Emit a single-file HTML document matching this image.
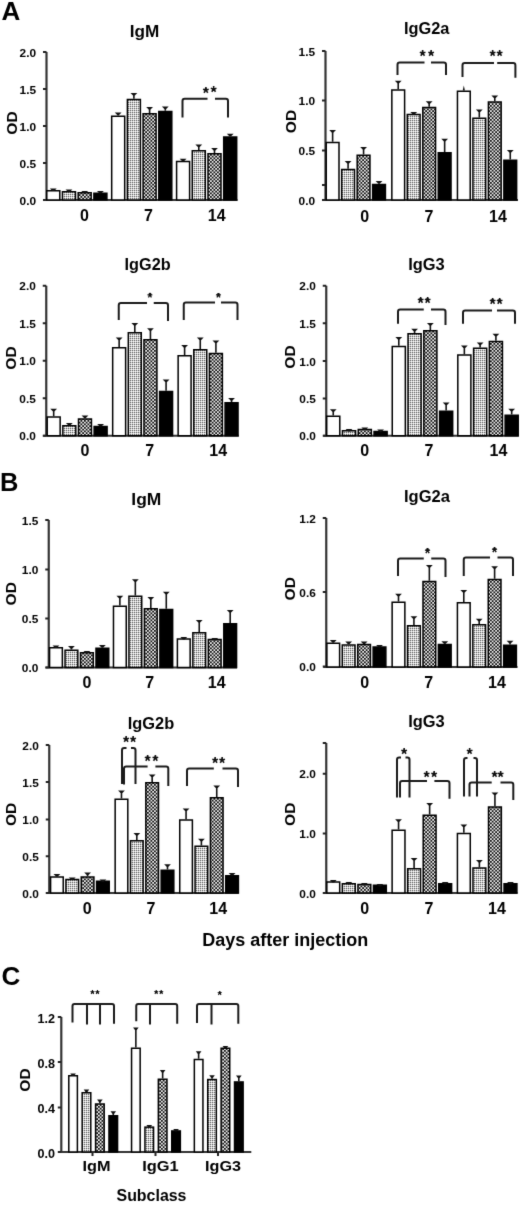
<!DOCTYPE html>
<html><head><meta charset="utf-8"><title>Figure</title>
<style>
html,body{margin:0;padding:0;background:#fff;}
body{width:520px;height:1206px;overflow:hidden;}
svg{display:block;font-family:"Liberation Sans", sans-serif;}
.ax{stroke:#333;stroke-width:2.2;fill:none;}
.tk{stroke:#222;stroke-width:2;}
.bar{stroke:#000;stroke-width:1.5;}
.eb{stroke:#111;stroke-width:1.6;}
.cap{fill:#111;}
.st{fill:#111;}
.br{stroke:#1a1a1a;stroke-width:2;fill:none;}
text{fill:#000;}
</style></head><body>
<svg width="520" height="1206" viewBox="0 0 520 1206">
<defs>
<pattern id="fine" patternUnits="userSpaceOnUse" width="2" height="2">
<rect width="2" height="2" fill="#fff"/><rect width="1" height="1" fill="#666"/><rect x="1" width="1" height="1" fill="#d2d2d2"/><rect y="1" width="1" height="1" fill="#d2d2d2"/>
</pattern>
<pattern id="cross" patternUnits="userSpaceOnUse" width="3.5" height="3.5">
<rect width="3.5" height="3.5" fill="#f0f0f0"/><rect width="1.75" height="1.75" fill="#111"/><rect x="1.75" y="1.75" width="1.75" height="1.75" fill="#111"/>
</pattern>
<filter id="soft" x="0" y="0" width="520" height="1206" filterUnits="userSpaceOnUse" color-interpolation-filters="sRGB"><feConvolveMatrix order="3" kernelMatrix="1 8 1 8 64 8 1 8 1" divisor="100" edgeMode="duplicate"/></filter>
</defs>
<g filter="url(#soft)">
<rect width="520" height="1206" fill="#fff"/>
<line x1="46.5" y1="52" x2="46.5" y2="200" class="ax"/>
<line x1="43.5" y1="200" x2="237.5" y2="200" class="ax"/>
<line x1="43.0" y1="52" x2="46.5" y2="52" class="tk"/>
<text x="36.10" y="56.70" font-size="10" font-weight="bold" text-anchor="end" textLength="16.5" lengthAdjust="spacingAndGlyphs">2.0</text>
<line x1="43.0" y1="89" x2="46.5" y2="89" class="tk"/>
<text x="36.10" y="93.70" font-size="10" font-weight="bold" text-anchor="end" textLength="16.5" lengthAdjust="spacingAndGlyphs">1.5</text>
<line x1="43.0" y1="126" x2="46.5" y2="126" class="tk"/>
<text x="36.10" y="130.70" font-size="10" font-weight="bold" text-anchor="end" textLength="16.5" lengthAdjust="spacingAndGlyphs">1.0</text>
<line x1="43.0" y1="163" x2="46.5" y2="163" class="tk"/>
<text x="36.10" y="167.70" font-size="10" font-weight="bold" text-anchor="end" textLength="16.5" lengthAdjust="spacingAndGlyphs">0.5</text>
<line x1="43.0" y1="200" x2="46.5" y2="200" class="tk"/>
<text x="36.10" y="204.70" font-size="10" font-weight="bold" text-anchor="end" textLength="16.5" lengthAdjust="spacingAndGlyphs">0.0</text>
<rect x="46.78" y="190.75" width="13.00" height="9.25" fill="#fff" class="bar"/>
<line x1="53.28" y1="190" x2="53.28" y2="189.5" class="eb"/>
<path d="M49.88 188.50h6.80l-2.50 2.6h-1.8z" class="cap"/>
<rect x="62.48" y="191.75" width="13.00" height="8.25" fill="url(#fine)" class="bar"/>
<line x1="68.98" y1="191" x2="68.98" y2="190.5" class="eb"/>
<path d="M65.58 189.50h6.80l-2.50 2.6h-1.8z" class="cap"/>
<rect x="78.18" y="192.75" width="13.00" height="7.25" fill="url(#cross)" class="bar"/>
<line x1="84.69" y1="192" x2="84.69" y2="192" class="eb"/>
<path d="M81.29 191.00h6.80l-2.50 2.6h-1.8z" class="cap"/>
<rect x="93.89" y="193.25" width="13.00" height="6.75" fill="#000" class="bar"/>
<line x1="100.39" y1="192.5" x2="100.39" y2="192" class="eb"/>
<path d="M96.99 191.00h6.80l-2.50 2.6h-1.8z" class="cap"/>
<rect x="111.68" y="116.25" width="13.00" height="83.75" fill="#fff" class="bar"/>
<line x1="118.18" y1="115.5" x2="118.18" y2="113.5" class="eb"/>
<path d="M114.78 112.50h6.80l-2.50 2.6h-1.8z" class="cap"/>
<rect x="127.39" y="99.50" width="13.00" height="100.50" fill="url(#fine)" class="bar"/>
<line x1="133.89" y1="98.75" x2="133.89" y2="94" class="eb"/>
<path d="M130.49 93.00h6.80l-2.50 2.6h-1.8z" class="cap"/>
<rect x="143.09" y="113.75" width="13.00" height="86.25" fill="url(#cross)" class="bar"/>
<line x1="149.59" y1="113" x2="149.59" y2="108" class="eb"/>
<path d="M146.19 107.00h6.80l-2.50 2.6h-1.8z" class="cap"/>
<rect x="158.79" y="111.50" width="13.00" height="88.50" fill="#000" class="bar"/>
<line x1="165.30" y1="110.75" x2="165.30" y2="107.5" class="eb"/>
<path d="M161.90 106.50h6.80l-2.50 2.6h-1.8z" class="cap"/>
<rect x="176.59" y="161.50" width="13.00" height="38.50" fill="#fff" class="bar"/>
<line x1="183.09" y1="160.75" x2="183.09" y2="159.75" class="eb"/>
<path d="M179.69 158.75h6.80l-2.50 2.6h-1.8z" class="cap"/>
<rect x="192.29" y="150.75" width="13.00" height="49.25" fill="url(#fine)" class="bar"/>
<line x1="198.79" y1="150" x2="198.79" y2="145.5" class="eb"/>
<path d="M195.39 144.50h6.80l-2.50 2.6h-1.8z" class="cap"/>
<rect x="208.00" y="153.75" width="13.00" height="46.25" fill="url(#cross)" class="bar"/>
<line x1="214.50" y1="153" x2="214.50" y2="149" class="eb"/>
<path d="M211.10 148.00h6.80l-2.50 2.6h-1.8z" class="cap"/>
<rect x="223.70" y="137.00" width="13.00" height="63.00" fill="#000" class="bar"/>
<line x1="230.20" y1="136.25" x2="230.20" y2="134.75" class="eb"/>
<path d="M226.80 133.75h6.80l-2.50 2.6h-1.8z" class="cap"/>
<path d="M182.5 117.5V100.95Q182.5 98.75 184.7 98.75H207.5 M215 98.75H225.8Q228 98.75 228 100.95V117.5" class="br"/>
<text x="205.80" y="98.70" font-size="16.0" font-weight="bold" text-anchor="middle" class="st">*</text>
<circle cx="205.80" cy="89.70" r="1.67" class="st"/>
<text x="213.70" y="98.40" font-size="16.0" font-weight="bold" text-anchor="middle" class="st">*</text>
<circle cx="213.70" cy="89.40" r="1.67" class="st"/>
<text x="84.40" y="220.90" font-size="16" font-weight="bold" text-anchor="middle">0</text>
<text x="148.40" y="220.90" font-size="16" font-weight="bold" text-anchor="middle">7</text>
<text x="216.70" y="220.90" font-size="16" font-weight="bold" text-anchor="middle">14</text>
<text x="144.50" y="37.00" font-size="16" font-weight="bold" text-anchor="middle" textLength="29.5" lengthAdjust="spacingAndGlyphs">IgM</text>
<text x="16.70" y="123.00" font-size="15.5" font-weight="bold" text-anchor="middle" transform="rotate(-90 16.7 123)">OD</text>
<line x1="325.5" y1="51" x2="325.5" y2="200" class="ax"/>
<line x1="322.5" y1="200" x2="518" y2="200" class="ax"/>
<line x1="322.0" y1="51" x2="325.5" y2="51" class="tk"/>
<text x="315.10" y="55.70" font-size="10" font-weight="bold" text-anchor="end" textLength="16.5" lengthAdjust="spacingAndGlyphs">1.5</text>
<line x1="322.0" y1="100.5" x2="325.5" y2="100.5" class="tk"/>
<text x="315.10" y="105.20" font-size="10" font-weight="bold" text-anchor="end" textLength="16.5" lengthAdjust="spacingAndGlyphs">1.0</text>
<line x1="322.0" y1="150.5" x2="325.5" y2="150.5" class="tk"/>
<text x="315.10" y="155.20" font-size="10" font-weight="bold" text-anchor="end" textLength="16.5" lengthAdjust="spacingAndGlyphs">0.5</text>
<line x1="322.0" y1="185" x2="325.5" y2="185" class="tk"/>
<line x1="322.0" y1="200" x2="325.5" y2="200" class="tk"/>
<text x="315.10" y="204.70" font-size="10" font-weight="bold" text-anchor="end" textLength="16.5" lengthAdjust="spacingAndGlyphs">0.0</text>
<rect x="326.23" y="142.50" width="12.77" height="57.50" fill="#fff" class="bar"/>
<line x1="332.62" y1="141.75" x2="332.62" y2="131" class="eb"/>
<path d="M329.22 130.00h6.80l-2.50 2.6h-1.8z" class="cap"/>
<rect x="341.70" y="169.50" width="12.77" height="30.50" fill="url(#fine)" class="bar"/>
<line x1="348.09" y1="168.75" x2="348.09" y2="162" class="eb"/>
<path d="M344.69 161.00h6.80l-2.50 2.6h-1.8z" class="cap"/>
<rect x="357.18" y="155.25" width="12.77" height="44.75" fill="url(#cross)" class="bar"/>
<line x1="363.57" y1="154.5" x2="363.57" y2="148" class="eb"/>
<path d="M360.17 147.00h6.80l-2.50 2.6h-1.8z" class="cap"/>
<rect x="372.65" y="184.50" width="12.77" height="15.50" fill="#000" class="bar"/>
<line x1="379.04" y1="183.75" x2="379.04" y2="182" class="eb"/>
<path d="M375.64 181.00h6.80l-2.50 2.6h-1.8z" class="cap"/>
<rect x="391.84" y="90.00" width="12.77" height="110.00" fill="#fff" class="bar"/>
<line x1="398.22" y1="89.25" x2="398.22" y2="81.75" class="eb"/>
<path d="M394.82 80.75h6.80l-2.50 2.6h-1.8z" class="cap"/>
<rect x="407.31" y="114.50" width="12.77" height="85.50" fill="url(#fine)" class="bar"/>
<line x1="413.70" y1="113.75" x2="413.70" y2="113" class="eb"/>
<path d="M410.30 112.00h6.80l-2.50 2.6h-1.8z" class="cap"/>
<rect x="422.79" y="107.50" width="12.77" height="92.50" fill="url(#cross)" class="bar"/>
<line x1="429.17" y1="106.75" x2="429.17" y2="102.25" class="eb"/>
<path d="M425.77 101.25h6.80l-2.50 2.6h-1.8z" class="cap"/>
<rect x="438.26" y="152.75" width="12.77" height="47.25" fill="#000" class="bar"/>
<line x1="444.65" y1="152" x2="444.65" y2="139.75" class="eb"/>
<path d="M441.25 138.75h6.80l-2.50 2.6h-1.8z" class="cap"/>
<rect x="457.45" y="91.25" width="12.77" height="108.75" fill="#fff" class="bar"/>
<path d="M462.73 90.5L463.83 85.5L464.93 90.5z" class="cap"/>
<rect x="472.92" y="118.25" width="12.77" height="81.75" fill="url(#fine)" class="bar"/>
<line x1="479.31" y1="117.5" x2="479.31" y2="110.5" class="eb"/>
<path d="M475.91 109.50h6.80l-2.50 2.6h-1.8z" class="cap"/>
<rect x="488.40" y="102.00" width="12.77" height="98.00" fill="url(#cross)" class="bar"/>
<line x1="494.78" y1="101.25" x2="494.78" y2="96.5" class="eb"/>
<path d="M491.38 95.50h6.80l-2.50 2.6h-1.8z" class="cap"/>
<rect x="503.87" y="160.25" width="12.77" height="39.75" fill="#000" class="bar"/>
<line x1="510.26" y1="159.5" x2="510.26" y2="151" class="eb"/>
<path d="M506.86 150.00h6.80l-2.50 2.6h-1.8z" class="cap"/>
<path d="M397.5 75V64.7Q397.5 62.5 399.7 62.5H424.5 M431 62.5H443.8Q446 62.5 446 64.7V75" class="br"/>
<path d="M462.5 77V65.2Q462.5 63 464.7 63H494 M497.2 63H513.1999999999999Q515.4 63 515.4 65.2V77.7" class="br"/>
<text x="422.50" y="62.00" font-size="16.0" font-weight="bold" text-anchor="middle" class="st">*</text>
<circle cx="422.50" cy="53.00" r="1.67" class="st"/>
<text x="431.00" y="62.00" font-size="16.0" font-weight="bold" text-anchor="middle" class="st">*</text>
<circle cx="431.00" cy="53.00" r="1.67" class="st"/>
<text x="492.70" y="62.00" font-size="16.0" font-weight="bold" text-anchor="middle" class="st">*</text>
<circle cx="492.70" cy="53.00" r="1.67" class="st"/>
<text x="499.60" y="62.00" font-size="16.0" font-weight="bold" text-anchor="middle" class="st">*</text>
<circle cx="499.60" cy="53.00" r="1.67" class="st"/>
<text x="364.80" y="221.80" font-size="16" font-weight="bold" text-anchor="middle">0</text>
<text x="429.00" y="221.80" font-size="16" font-weight="bold" text-anchor="middle">7</text>
<text x="497.90" y="221.80" font-size="16" font-weight="bold" text-anchor="middle">14</text>
<text x="426.70" y="34.40" font-size="16" font-weight="bold" text-anchor="middle" textLength="45.5" lengthAdjust="spacingAndGlyphs">IgG2a</text>
<text x="295.60" y="121.50" font-size="15.5" font-weight="bold" text-anchor="middle" transform="rotate(-90 295.6 121.5)">OD</text>
<line x1="46.25" y1="285.75" x2="46.25" y2="435.75" class="ax"/>
<line x1="43.25" y1="435.75" x2="238.75" y2="435.75" class="ax"/>
<line x1="42.75" y1="285.75" x2="46.25" y2="285.75" class="tk"/>
<text x="35.85" y="290.45" font-size="10" font-weight="bold" text-anchor="end" textLength="16.5" lengthAdjust="spacingAndGlyphs">2.0</text>
<line x1="42.75" y1="323.25" x2="46.25" y2="323.25" class="tk"/>
<text x="35.85" y="327.95" font-size="10" font-weight="bold" text-anchor="end" textLength="16.5" lengthAdjust="spacingAndGlyphs">1.5</text>
<line x1="42.75" y1="360.75" x2="46.25" y2="360.75" class="tk"/>
<text x="35.85" y="365.45" font-size="10" font-weight="bold" text-anchor="end" textLength="16.5" lengthAdjust="spacingAndGlyphs">1.0</text>
<line x1="42.75" y1="398.25" x2="46.25" y2="398.25" class="tk"/>
<text x="35.85" y="402.95" font-size="10" font-weight="bold" text-anchor="end" textLength="16.5" lengthAdjust="spacingAndGlyphs">0.5</text>
<line x1="42.75" y1="435.75" x2="46.25" y2="435.75" class="tk"/>
<text x="35.85" y="440.45" font-size="10" font-weight="bold" text-anchor="end" textLength="16.5" lengthAdjust="spacingAndGlyphs">0.0</text>
<rect x="47.20" y="417.00" width="12.95" height="18.75" fill="#fff" class="bar"/>
<line x1="53.68" y1="416.25" x2="53.68" y2="409.75" class="eb"/>
<path d="M50.28 408.75h6.80l-2.50 2.6h-1.8z" class="cap"/>
<rect x="62.85" y="425.75" width="12.95" height="10.00" fill="url(#fine)" class="bar"/>
<line x1="69.32" y1="425" x2="69.32" y2="424" class="eb"/>
<path d="M65.92 423.00h6.80l-2.50 2.6h-1.8z" class="cap"/>
<rect x="78.50" y="419.00" width="12.95" height="16.75" fill="url(#cross)" class="bar"/>
<line x1="84.97" y1="418.25" x2="84.97" y2="416.5" class="eb"/>
<path d="M81.57 415.50h6.80l-2.50 2.6h-1.8z" class="cap"/>
<rect x="94.14" y="426.50" width="12.95" height="9.25" fill="#000" class="bar"/>
<line x1="100.61" y1="425.75" x2="100.61" y2="425" class="eb"/>
<path d="M97.21 424.00h6.80l-2.50 2.6h-1.8z" class="cap"/>
<rect x="112.67" y="347.75" width="12.95" height="88.00" fill="#fff" class="bar"/>
<line x1="119.15" y1="347" x2="119.15" y2="338.5" class="eb"/>
<path d="M115.75 337.50h6.80l-2.50 2.6h-1.8z" class="cap"/>
<rect x="128.32" y="332.75" width="12.95" height="103.00" fill="url(#fine)" class="bar"/>
<line x1="134.79" y1="332" x2="134.79" y2="324" class="eb"/>
<path d="M131.39 323.00h6.80l-2.50 2.6h-1.8z" class="cap"/>
<rect x="143.96" y="339.75" width="12.95" height="96.00" fill="url(#cross)" class="bar"/>
<line x1="150.44" y1="339" x2="150.44" y2="329.25" class="eb"/>
<path d="M147.04 328.25h6.80l-2.50 2.6h-1.8z" class="cap"/>
<rect x="159.61" y="391.50" width="12.95" height="44.25" fill="#000" class="bar"/>
<line x1="166.08" y1="390.75" x2="166.08" y2="380.5" class="eb"/>
<path d="M162.68 379.50h6.80l-2.50 2.6h-1.8z" class="cap"/>
<rect x="178.14" y="355.75" width="12.95" height="80.00" fill="#fff" class="bar"/>
<line x1="184.61" y1="355" x2="184.61" y2="346" class="eb"/>
<path d="M181.21 345.00h6.80l-2.50 2.6h-1.8z" class="cap"/>
<rect x="193.79" y="349.75" width="12.95" height="86.00" fill="url(#fine)" class="bar"/>
<line x1="200.26" y1="349" x2="200.26" y2="338.5" class="eb"/>
<path d="M196.86 337.50h6.80l-2.50 2.6h-1.8z" class="cap"/>
<rect x="209.43" y="353.50" width="12.95" height="82.25" fill="url(#cross)" class="bar"/>
<line x1="215.91" y1="352.75" x2="215.91" y2="341.5" class="eb"/>
<path d="M212.51 340.50h6.80l-2.50 2.6h-1.8z" class="cap"/>
<rect x="225.08" y="402.75" width="12.95" height="33.00" fill="#000" class="bar"/>
<line x1="231.55" y1="402" x2="231.55" y2="399" class="eb"/>
<path d="M228.15 398.00h6.80l-2.50 2.6h-1.8z" class="cap"/>
<path d="M118.75 320V305.2Q118.75 303 120.95 303H147 M153.75 303H165.8Q168 303 168 305.2V321" class="br"/>
<path d="M183.75 320V304.7Q183.75 302.5 185.95 302.5H215 M221 302.5H235.3Q237.5 302.5 237.5 304.7V320" class="br"/>
<text x="150.00" y="301.97" font-size="13.6" font-weight="bold" text-anchor="middle" class="st">*</text>
<circle cx="150.00" cy="294.30" r="1.43" class="st"/>
<text x="218.50" y="302.17" font-size="13.6" font-weight="bold" text-anchor="middle" class="st">*</text>
<circle cx="218.50" cy="294.50" r="1.43" class="st"/>
<text x="85.00" y="456.00" font-size="16" font-weight="bold" text-anchor="middle">0</text>
<text x="149.80" y="456.00" font-size="16" font-weight="bold" text-anchor="middle">7</text>
<text x="218.20" y="456.00" font-size="16" font-weight="bold" text-anchor="middle">14</text>
<text x="147.60" y="270.40" font-size="16" font-weight="bold" text-anchor="middle" textLength="46" lengthAdjust="spacingAndGlyphs">IgG2b</text>
<text x="15.60" y="358.00" font-size="15.5" font-weight="bold" text-anchor="middle" transform="rotate(-90 15.6 358)">OD</text>
<line x1="326.25" y1="285.75" x2="326.25" y2="435.75" class="ax"/>
<line x1="323.25" y1="435.75" x2="518.75" y2="435.75" class="ax"/>
<line x1="322.75" y1="285.75" x2="326.25" y2="285.75" class="tk"/>
<text x="315.85" y="290.45" font-size="10" font-weight="bold" text-anchor="end" textLength="16.5" lengthAdjust="spacingAndGlyphs">2.0</text>
<line x1="322.75" y1="323.25" x2="326.25" y2="323.25" class="tk"/>
<text x="315.85" y="327.95" font-size="10" font-weight="bold" text-anchor="end" textLength="16.5" lengthAdjust="spacingAndGlyphs">1.5</text>
<line x1="322.75" y1="361" x2="326.25" y2="361" class="tk"/>
<text x="315.85" y="365.70" font-size="10" font-weight="bold" text-anchor="end" textLength="16.5" lengthAdjust="spacingAndGlyphs">1.0</text>
<line x1="322.75" y1="398.5" x2="326.25" y2="398.5" class="tk"/>
<text x="315.85" y="403.20" font-size="10" font-weight="bold" text-anchor="end" textLength="16.5" lengthAdjust="spacingAndGlyphs">0.5</text>
<line x1="322.75" y1="435.75" x2="326.25" y2="435.75" class="tk"/>
<text x="315.85" y="440.45" font-size="10" font-weight="bold" text-anchor="end" textLength="16.5" lengthAdjust="spacingAndGlyphs">0.0</text>
<rect x="326.71" y="416.25" width="13.08" height="19.50" fill="#fff" class="bar"/>
<line x1="333.25" y1="415.5" x2="333.25" y2="410.25" class="eb"/>
<path d="M329.85 409.25h6.80l-2.50 2.6h-1.8z" class="cap"/>
<rect x="342.49" y="430.75" width="13.08" height="5.00" fill="url(#fine)" class="bar"/>
<line x1="349.03" y1="430" x2="349.03" y2="430" class="eb"/>
<path d="M345.63 429.00h6.80l-2.50 2.6h-1.8z" class="cap"/>
<rect x="358.27" y="429.50" width="13.08" height="6.25" fill="url(#cross)" class="bar"/>
<line x1="364.81" y1="428.75" x2="364.81" y2="428.5" class="eb"/>
<path d="M361.41 427.50h6.80l-2.50 2.6h-1.8z" class="cap"/>
<rect x="374.05" y="431.50" width="13.08" height="4.25" fill="#000" class="bar"/>
<line x1="380.59" y1="430.75" x2="380.59" y2="430.5" class="eb"/>
<path d="M377.19 429.50h6.80l-2.50 2.6h-1.8z" class="cap"/>
<rect x="392.26" y="346.50" width="13.08" height="89.25" fill="#fff" class="bar"/>
<line x1="398.80" y1="345.75" x2="398.80" y2="338" class="eb"/>
<path d="M395.40 337.00h6.80l-2.50 2.6h-1.8z" class="cap"/>
<rect x="408.04" y="333.75" width="13.08" height="102.00" fill="url(#fine)" class="bar"/>
<line x1="414.58" y1="333" x2="414.58" y2="329.75" class="eb"/>
<path d="M411.18 328.75h6.80l-2.50 2.6h-1.8z" class="cap"/>
<rect x="423.82" y="330.75" width="13.08" height="105.00" fill="url(#cross)" class="bar"/>
<line x1="430.36" y1="330" x2="430.36" y2="324" class="eb"/>
<path d="M426.96 323.00h6.80l-2.50 2.6h-1.8z" class="cap"/>
<rect x="439.60" y="411.25" width="13.08" height="24.50" fill="#000" class="bar"/>
<line x1="446.14" y1="410.5" x2="446.14" y2="403.5" class="eb"/>
<path d="M442.74 402.50h6.80l-2.50 2.6h-1.8z" class="cap"/>
<rect x="457.81" y="355.00" width="13.08" height="80.75" fill="#fff" class="bar"/>
<line x1="464.35" y1="354.25" x2="464.35" y2="346.5" class="eb"/>
<path d="M460.95 345.50h6.80l-2.50 2.6h-1.8z" class="cap"/>
<rect x="473.59" y="348.25" width="13.08" height="87.50" fill="url(#fine)" class="bar"/>
<line x1="480.13" y1="347.5" x2="480.13" y2="343.5" class="eb"/>
<path d="M476.73 342.50h6.80l-2.50 2.6h-1.8z" class="cap"/>
<rect x="489.37" y="341.50" width="13.08" height="94.25" fill="url(#cross)" class="bar"/>
<line x1="495.91" y1="340.75" x2="495.91" y2="334.75" class="eb"/>
<path d="M492.51 333.75h6.80l-2.50 2.6h-1.8z" class="cap"/>
<rect x="505.14" y="415.25" width="13.08" height="20.50" fill="#000" class="bar"/>
<line x1="511.68" y1="414.5" x2="511.68" y2="409.75" class="eb"/>
<path d="M508.28 408.75h6.80l-2.50 2.6h-1.8z" class="cap"/>
<path d="M398 323.75V311.7Q398 309.5 400.2 309.5H423.75 M431 309.5H443.3Q445.5 309.5 445.5 311.7V325" class="br"/>
<path d="M463 323.75V312.7Q463 310.5 465.2 310.5H492 M497 310.5H512.8Q515 310.5 515 312.7V323.75" class="br"/>
<text x="420.50" y="308.50" font-size="16.0" font-weight="bold" text-anchor="middle" class="st">*</text>
<circle cx="420.50" cy="299.50" r="1.67" class="st"/>
<text x="427.50" y="308.50" font-size="16.0" font-weight="bold" text-anchor="middle" class="st">*</text>
<circle cx="427.50" cy="299.50" r="1.67" class="st"/>
<text x="492.50" y="309.50" font-size="16.0" font-weight="bold" text-anchor="middle" class="st">*</text>
<circle cx="492.50" cy="300.50" r="1.67" class="st"/>
<text x="499.50" y="309.50" font-size="16.0" font-weight="bold" text-anchor="middle" class="st">*</text>
<circle cx="499.50" cy="300.50" r="1.67" class="st"/>
<text x="364.80" y="456.00" font-size="16" font-weight="bold" text-anchor="middle">0</text>
<text x="429.00" y="456.00" font-size="16" font-weight="bold" text-anchor="middle">7</text>
<text x="498.50" y="456.00" font-size="16" font-weight="bold" text-anchor="middle">14</text>
<text x="426.50" y="270.10" font-size="16" font-weight="bold" text-anchor="middle" textLength="36.5" lengthAdjust="spacingAndGlyphs">IgG3</text>
<text x="294.60" y="357.00" font-size="15.5" font-weight="bold" text-anchor="middle" transform="rotate(-90 294.6 357)">OD</text>
<line x1="48.75" y1="520" x2="48.75" y2="667.5" class="ax"/>
<line x1="45.75" y1="667.5" x2="237" y2="667.5" class="ax"/>
<line x1="45.25" y1="520" x2="48.75" y2="520" class="tk"/>
<text x="38.35" y="524.70" font-size="10" font-weight="bold" text-anchor="end" textLength="16.5" lengthAdjust="spacingAndGlyphs">1.5</text>
<line x1="45.25" y1="569.5" x2="48.75" y2="569.5" class="tk"/>
<text x="38.35" y="574.20" font-size="10" font-weight="bold" text-anchor="end" textLength="16.5" lengthAdjust="spacingAndGlyphs">1.0</text>
<line x1="45.25" y1="618.5" x2="48.75" y2="618.5" class="tk"/>
<text x="38.35" y="623.20" font-size="10" font-weight="bold" text-anchor="end" textLength="16.5" lengthAdjust="spacingAndGlyphs">0.5</text>
<line x1="45.25" y1="667.5" x2="48.75" y2="667.5" class="tk"/>
<text x="38.35" y="672.20" font-size="10" font-weight="bold" text-anchor="end" textLength="16.5" lengthAdjust="spacingAndGlyphs">0.0</text>
<rect x="49.57" y="647.75" width="12.77" height="19.75" fill="#fff" class="bar"/>
<line x1="55.96" y1="647" x2="55.96" y2="646.5" class="eb"/>
<path d="M52.56 645.50h6.80l-2.50 2.6h-1.8z" class="cap"/>
<rect x="65.05" y="650.25" width="12.77" height="17.25" fill="url(#fine)" class="bar"/>
<line x1="71.43" y1="649.5" x2="71.43" y2="647" class="eb"/>
<path d="M68.03 646.00h6.80l-2.50 2.6h-1.8z" class="cap"/>
<rect x="80.52" y="652.75" width="12.77" height="14.75" fill="url(#cross)" class="bar"/>
<line x1="86.90" y1="652" x2="86.90" y2="652" class="eb"/>
<path d="M83.50 651.00h6.80l-2.50 2.6h-1.8z" class="cap"/>
<rect x="95.99" y="648.25" width="12.77" height="19.25" fill="#000" class="bar"/>
<line x1="102.37" y1="647.5" x2="102.37" y2="646" class="eb"/>
<path d="M98.97 645.00h6.80l-2.50 2.6h-1.8z" class="cap"/>
<rect x="113.48" y="606.25" width="12.77" height="61.25" fill="#fff" class="bar"/>
<line x1="119.87" y1="605.5" x2="119.87" y2="596.75" class="eb"/>
<path d="M116.47 595.75h6.80l-2.50 2.6h-1.8z" class="cap"/>
<rect x="128.95" y="596.25" width="12.77" height="71.25" fill="url(#fine)" class="bar"/>
<line x1="135.34" y1="595.5" x2="135.34" y2="580.25" class="eb"/>
<path d="M131.94 579.25h6.80l-2.50 2.6h-1.8z" class="cap"/>
<rect x="144.42" y="608.75" width="12.77" height="58.75" fill="url(#cross)" class="bar"/>
<line x1="150.81" y1="608" x2="150.81" y2="598" class="eb"/>
<path d="M147.41 597.00h6.80l-2.50 2.6h-1.8z" class="cap"/>
<rect x="159.89" y="609.50" width="12.77" height="58.00" fill="#000" class="bar"/>
<line x1="166.28" y1="608.75" x2="166.28" y2="592.75" class="eb"/>
<path d="M162.88 591.75h6.80l-2.50 2.6h-1.8z" class="cap"/>
<rect x="177.39" y="639.00" width="12.77" height="28.50" fill="#fff" class="bar"/>
<line x1="183.77" y1="638.25" x2="183.77" y2="638" class="eb"/>
<path d="M180.37 637.00h6.80l-2.50 2.6h-1.8z" class="cap"/>
<rect x="192.86" y="632.75" width="12.77" height="34.75" fill="url(#fine)" class="bar"/>
<line x1="199.24" y1="632" x2="199.24" y2="621" class="eb"/>
<path d="M195.84 620.00h6.80l-2.50 2.6h-1.8z" class="cap"/>
<rect x="208.33" y="639.50" width="12.77" height="28.00" fill="url(#cross)" class="bar"/>
<path d="M211.31 638.00h6.80l-2.50 2.6h-1.8z" class="cap"/>
<rect x="223.80" y="623.75" width="12.77" height="43.75" fill="#000" class="bar"/>
<line x1="230.19" y1="623" x2="230.19" y2="611" class="eb"/>
<path d="M226.79 610.00h6.80l-2.50 2.6h-1.8z" class="cap"/>
<text x="86.90" y="688.00" font-size="16" font-weight="bold" text-anchor="middle">0</text>
<text x="149.80" y="688.00" font-size="16" font-weight="bold" text-anchor="middle">7</text>
<text x="216.70" y="688.00" font-size="16" font-weight="bold" text-anchor="middle">14</text>
<text x="146.30" y="505.00" font-size="16" font-weight="bold" text-anchor="middle" textLength="30" lengthAdjust="spacingAndGlyphs">IgM</text>
<text x="15.60" y="593.75" font-size="15.5" font-weight="bold" text-anchor="middle" transform="rotate(-90 15.6 593.75)">OD</text>
<line x1="326.25" y1="518" x2="326.25" y2="667" class="ax"/>
<line x1="323.25" y1="667" x2="517.5" y2="667" class="ax"/>
<line x1="322.75" y1="518" x2="326.25" y2="518" class="tk"/>
<text x="315.85" y="522.70" font-size="10" font-weight="bold" text-anchor="end" textLength="16.5" lengthAdjust="spacingAndGlyphs">1.2</text>
<line x1="322.75" y1="592" x2="326.25" y2="592" class="tk"/>
<text x="315.85" y="596.70" font-size="10" font-weight="bold" text-anchor="end" textLength="16.5" lengthAdjust="spacingAndGlyphs">0.6</text>
<line x1="322.75" y1="666.5" x2="326.25" y2="666.5" class="tk"/>
<text x="315.85" y="671.20" font-size="10" font-weight="bold" text-anchor="end" textLength="16.5" lengthAdjust="spacingAndGlyphs">0.0</text>
<rect x="326.88" y="643.25" width="12.72" height="23.75" fill="#fff" class="bar"/>
<line x1="333.24" y1="642.5" x2="333.24" y2="641" class="eb"/>
<path d="M329.84 640.00h6.80l-2.50 2.6h-1.8z" class="cap"/>
<rect x="342.30" y="645.00" width="12.72" height="22.00" fill="url(#fine)" class="bar"/>
<line x1="348.66" y1="644.25" x2="348.66" y2="642.5" class="eb"/>
<path d="M345.26 641.50h6.80l-2.50 2.6h-1.8z" class="cap"/>
<rect x="357.72" y="644.50" width="12.72" height="22.50" fill="url(#cross)" class="bar"/>
<line x1="364.08" y1="643.75" x2="364.08" y2="642.5" class="eb"/>
<path d="M360.68 641.50h6.80l-2.50 2.6h-1.8z" class="cap"/>
<rect x="373.14" y="647.00" width="12.72" height="20.00" fill="#000" class="bar"/>
<line x1="379.50" y1="646.25" x2="379.50" y2="646" class="eb"/>
<path d="M376.10 645.00h6.80l-2.50 2.6h-1.8z" class="cap"/>
<rect x="392.14" y="602.25" width="12.72" height="64.75" fill="#fff" class="bar"/>
<line x1="398.50" y1="601.5" x2="398.50" y2="594.75" class="eb"/>
<path d="M395.10 593.75h6.80l-2.50 2.6h-1.8z" class="cap"/>
<rect x="407.56" y="625.75" width="12.72" height="41.25" fill="url(#fine)" class="bar"/>
<line x1="413.93" y1="625" x2="413.93" y2="617.25" class="eb"/>
<path d="M410.53 616.25h6.80l-2.50 2.6h-1.8z" class="cap"/>
<rect x="422.99" y="581.50" width="12.72" height="85.50" fill="url(#cross)" class="bar"/>
<line x1="429.35" y1="580.75" x2="429.35" y2="566" class="eb"/>
<path d="M425.95 565.00h6.80l-2.50 2.6h-1.8z" class="cap"/>
<rect x="438.41" y="644.50" width="12.72" height="22.50" fill="#000" class="bar"/>
<line x1="444.77" y1="643.75" x2="444.77" y2="642.25" class="eb"/>
<path d="M441.37 641.25h6.80l-2.50 2.6h-1.8z" class="cap"/>
<rect x="457.41" y="602.75" width="12.72" height="64.25" fill="#fff" class="bar"/>
<line x1="463.77" y1="602" x2="463.77" y2="591" class="eb"/>
<path d="M460.37 590.00h6.80l-2.50 2.6h-1.8z" class="cap"/>
<rect x="472.83" y="624.75" width="12.72" height="42.25" fill="url(#fine)" class="bar"/>
<line x1="479.19" y1="624" x2="479.19" y2="619.75" class="eb"/>
<path d="M475.79 618.75h6.80l-2.50 2.6h-1.8z" class="cap"/>
<rect x="488.25" y="579.50" width="12.72" height="87.50" fill="url(#cross)" class="bar"/>
<line x1="494.61" y1="578.75" x2="494.61" y2="567.25" class="eb"/>
<path d="M491.21 566.25h6.80l-2.50 2.6h-1.8z" class="cap"/>
<rect x="503.67" y="645.25" width="12.72" height="21.75" fill="#000" class="bar"/>
<line x1="510.03" y1="644.5" x2="510.03" y2="641.75" class="eb"/>
<path d="M506.63 640.75h6.80l-2.50 2.6h-1.8z" class="cap"/>
<path d="M398 576V560.7Q398 558.5 400.2 558.5H423.75 M431.25 558.5H443.3Q445.5 558.5 445.5 560.7V577" class="br"/>
<path d="M463.75 576V559.7Q463.75 557.5 465.95 557.5H490 M497.5 557.5H510.8Q513 557.5 513 559.7V576" class="br"/>
<text x="427.50" y="557.75" font-size="14.2" font-weight="bold" text-anchor="middle" class="st">*</text>
<circle cx="427.50" cy="549.75" r="1.49" class="st"/>
<text x="494.50" y="557.00" font-size="14.2" font-weight="bold" text-anchor="middle" class="st">*</text>
<circle cx="494.50" cy="549.00" r="1.49" class="st"/>
<text x="364.80" y="688.00" font-size="16" font-weight="bold" text-anchor="middle">0</text>
<text x="428.70" y="688.00" font-size="16" font-weight="bold" text-anchor="middle">7</text>
<text x="497.00" y="688.00" font-size="16" font-weight="bold" text-anchor="middle">14</text>
<text x="427.00" y="501.70" font-size="16" font-weight="bold" text-anchor="middle" textLength="46" lengthAdjust="spacingAndGlyphs">IgG2a</text>
<text x="294.60" y="588.75" font-size="15.5" font-weight="bold" text-anchor="middle" transform="rotate(-90 294.6 588.75)">OD</text>
<line x1="49.25" y1="745" x2="49.25" y2="893" class="ax"/>
<line x1="46.25" y1="893" x2="238.75" y2="893" class="ax"/>
<line x1="45.75" y1="745" x2="49.25" y2="745" class="tk"/>
<text x="38.85" y="749.70" font-size="10" font-weight="bold" text-anchor="end" textLength="16.5" lengthAdjust="spacingAndGlyphs">2.0</text>
<line x1="45.75" y1="782" x2="49.25" y2="782" class="tk"/>
<text x="38.85" y="786.70" font-size="10" font-weight="bold" text-anchor="end" textLength="16.5" lengthAdjust="spacingAndGlyphs">1.5</text>
<line x1="45.75" y1="819.5" x2="49.25" y2="819.5" class="tk"/>
<text x="38.85" y="824.20" font-size="10" font-weight="bold" text-anchor="end" textLength="16.5" lengthAdjust="spacingAndGlyphs">1.0</text>
<line x1="45.75" y1="856.25" x2="49.25" y2="856.25" class="tk"/>
<text x="38.85" y="860.95" font-size="10" font-weight="bold" text-anchor="end" textLength="16.5" lengthAdjust="spacingAndGlyphs">0.5</text>
<line x1="45.75" y1="893" x2="49.25" y2="893" class="tk"/>
<text x="38.85" y="897.70" font-size="10" font-weight="bold" text-anchor="end" textLength="16.5" lengthAdjust="spacingAndGlyphs">0.0</text>
<rect x="50.59" y="877.00" width="12.64" height="16.00" fill="#fff" class="bar"/>
<line x1="56.91" y1="876.25" x2="56.91" y2="875" class="eb"/>
<path d="M53.51 874.00h6.80l-2.50 2.6h-1.8z" class="cap"/>
<rect x="65.92" y="879.50" width="12.64" height="13.50" fill="url(#fine)" class="bar"/>
<line x1="72.24" y1="878.75" x2="72.24" y2="878.5" class="eb"/>
<path d="M68.84 877.50h6.80l-2.50 2.6h-1.8z" class="cap"/>
<rect x="81.26" y="877.00" width="12.64" height="16.00" fill="url(#cross)" class="bar"/>
<line x1="87.58" y1="876.25" x2="87.58" y2="873.5" class="eb"/>
<path d="M84.18 872.50h6.80l-2.50 2.6h-1.8z" class="cap"/>
<rect x="96.60" y="881.25" width="12.64" height="11.75" fill="#000" class="bar"/>
<line x1="102.92" y1="880.5" x2="102.92" y2="880.5" class="eb"/>
<path d="M99.52 879.50h6.80l-2.50 2.6h-1.8z" class="cap"/>
<rect x="115.16" y="799.25" width="12.64" height="93.75" fill="#fff" class="bar"/>
<line x1="121.48" y1="798.5" x2="121.48" y2="791.5" class="eb"/>
<path d="M118.08 790.50h6.80l-2.50 2.6h-1.8z" class="cap"/>
<rect x="130.50" y="840.75" width="12.64" height="52.25" fill="url(#fine)" class="bar"/>
<line x1="136.82" y1="840" x2="136.82" y2="834" class="eb"/>
<path d="M133.42 833.00h6.80l-2.50 2.6h-1.8z" class="cap"/>
<rect x="145.84" y="782.75" width="12.64" height="110.25" fill="url(#cross)" class="bar"/>
<line x1="152.16" y1="782" x2="152.16" y2="775.5" class="eb"/>
<path d="M148.76 774.50h6.80l-2.50 2.6h-1.8z" class="cap"/>
<rect x="161.18" y="870.25" width="12.64" height="22.75" fill="#000" class="bar"/>
<line x1="167.50" y1="869.5" x2="167.50" y2="865.25" class="eb"/>
<path d="M164.10 864.25h6.80l-2.50 2.6h-1.8z" class="cap"/>
<rect x="179.74" y="820.00" width="12.64" height="73.00" fill="#fff" class="bar"/>
<line x1="186.06" y1="819.25" x2="186.06" y2="809.5" class="eb"/>
<path d="M182.66 808.50h6.80l-2.50 2.6h-1.8z" class="cap"/>
<rect x="195.08" y="846.25" width="12.64" height="46.75" fill="url(#fine)" class="bar"/>
<line x1="201.40" y1="845.5" x2="201.40" y2="839.75" class="eb"/>
<path d="M198.00 838.75h6.80l-2.50 2.6h-1.8z" class="cap"/>
<rect x="210.42" y="797.75" width="12.64" height="95.25" fill="url(#cross)" class="bar"/>
<line x1="216.74" y1="797" x2="216.74" y2="786.5" class="eb"/>
<path d="M213.34 785.50h6.80l-2.50 2.6h-1.8z" class="cap"/>
<rect x="225.76" y="875.75" width="12.64" height="17.25" fill="#000" class="bar"/>
<line x1="232.07" y1="875" x2="232.07" y2="874" class="eb"/>
<path d="M228.67 873.00h6.80l-2.50 2.6h-1.8z" class="cap"/>
<path d="M122 784V750.2Q122 748 124.2 748H126.5 M131 748H133.3Q135.5 748 135.5 750.2V784" class="br"/>
<path d="M124 784.5V768.6Q124 766.4 126.2 766.4H147.6 M155.4 766.4H166.10000000000002Q168.3 766.4 168.3 768.6V786" class="br"/>
<path d="M187 786V770.7Q187 768.5 189.2 768.5H213.8 M222.5 768.5H235.8Q238 768.5 238 770.7V787" class="br"/>
<text x="126.00" y="748.00" font-size="16.0" font-weight="bold" text-anchor="middle" class="st">*</text>
<circle cx="126.00" cy="739.00" r="1.67" class="st"/>
<text x="133.00" y="748.00" font-size="16.0" font-weight="bold" text-anchor="middle" class="st">*</text>
<circle cx="133.00" cy="739.00" r="1.67" class="st"/>
<text x="147.50" y="766.60" font-size="16.0" font-weight="bold" text-anchor="middle" class="st">*</text>
<circle cx="147.50" cy="757.60" r="1.67" class="st"/>
<text x="155.30" y="766.60" font-size="16.0" font-weight="bold" text-anchor="middle" class="st">*</text>
<circle cx="155.30" cy="757.60" r="1.67" class="st"/>
<text x="215.00" y="768.80" font-size="16.0" font-weight="bold" text-anchor="middle" class="st">*</text>
<circle cx="215.00" cy="759.80" r="1.67" class="st"/>
<text x="222.00" y="768.80" font-size="16.0" font-weight="bold" text-anchor="middle" class="st">*</text>
<circle cx="222.00" cy="759.80" r="1.67" class="st"/>
<text x="87.20" y="913.50" font-size="16" font-weight="bold" text-anchor="middle">0</text>
<text x="151.00" y="913.50" font-size="16" font-weight="bold" text-anchor="middle">7</text>
<text x="218.20" y="913.50" font-size="16" font-weight="bold" text-anchor="middle">14</text>
<text x="151.00" y="728.70" font-size="16" font-weight="bold" text-anchor="middle" textLength="46.5" lengthAdjust="spacingAndGlyphs">IgG2b</text>
<text x="15.60" y="814.40" font-size="15.5" font-weight="bold" text-anchor="middle" transform="rotate(-90 15.6 814.4)">OD</text>
<line x1="326.25" y1="743" x2="326.25" y2="893" class="ax"/>
<line x1="323.25" y1="893" x2="517.5" y2="893" class="ax"/>
<line x1="322.75" y1="743" x2="326.25" y2="743" class="tk"/>
<line x1="322.75" y1="773.75" x2="326.25" y2="773.75" class="tk"/>
<text x="315.85" y="778.45" font-size="10" font-weight="bold" text-anchor="end" textLength="16.5" lengthAdjust="spacingAndGlyphs">2.0</text>
<line x1="322.75" y1="833.5" x2="326.25" y2="833.5" class="tk"/>
<text x="315.85" y="838.20" font-size="10" font-weight="bold" text-anchor="end" textLength="16.5" lengthAdjust="spacingAndGlyphs">1.0</text>
<line x1="322.75" y1="893" x2="326.25" y2="893" class="tk"/>
<text x="315.85" y="897.70" font-size="10" font-weight="bold" text-anchor="end" textLength="16.5" lengthAdjust="spacingAndGlyphs">0.0</text>
<rect x="326.83" y="882.00" width="12.85" height="11.00" fill="#fff" class="bar"/>
<line x1="333.25" y1="881.25" x2="333.25" y2="881" class="eb"/>
<path d="M329.85 880.00h6.80l-2.50 2.6h-1.8z" class="cap"/>
<rect x="342.37" y="883.75" width="12.85" height="9.25" fill="url(#fine)" class="bar"/>
<line x1="348.79" y1="883" x2="348.79" y2="883" class="eb"/>
<path d="M345.39 882.00h6.80l-2.50 2.6h-1.8z" class="cap"/>
<rect x="357.92" y="884.50" width="12.85" height="8.50" fill="url(#cross)" class="bar"/>
<path d="M360.94 883.00h6.80l-2.50 2.6h-1.8z" class="cap"/>
<rect x="373.46" y="885.25" width="12.85" height="7.75" fill="#000" class="bar"/>
<path d="M376.49 884.00h6.80l-2.50 2.6h-1.8z" class="cap"/>
<rect x="392.12" y="830.25" width="12.85" height="62.75" fill="#fff" class="bar"/>
<line x1="398.55" y1="829.5" x2="398.55" y2="820.25" class="eb"/>
<path d="M395.15 819.25h6.80l-2.50 2.6h-1.8z" class="cap"/>
<rect x="407.67" y="868.75" width="12.85" height="24.25" fill="url(#fine)" class="bar"/>
<line x1="414.09" y1="868" x2="414.09" y2="859" class="eb"/>
<path d="M410.69 858.00h6.80l-2.50 2.6h-1.8z" class="cap"/>
<rect x="423.21" y="815.25" width="12.85" height="77.75" fill="url(#cross)" class="bar"/>
<line x1="429.64" y1="814.5" x2="429.64" y2="804" class="eb"/>
<path d="M426.24 803.00h6.80l-2.50 2.6h-1.8z" class="cap"/>
<rect x="438.76" y="883.75" width="12.85" height="9.25" fill="#000" class="bar"/>
<line x1="445.18" y1="883" x2="445.18" y2="883" class="eb"/>
<path d="M441.78 882.00h6.80l-2.50 2.6h-1.8z" class="cap"/>
<rect x="457.42" y="833.50" width="12.85" height="59.50" fill="#fff" class="bar"/>
<line x1="463.84" y1="832.75" x2="463.84" y2="825.5" class="eb"/>
<path d="M460.44 824.50h6.80l-2.50 2.6h-1.8z" class="cap"/>
<rect x="472.97" y="868.00" width="12.85" height="25.00" fill="url(#fine)" class="bar"/>
<line x1="479.39" y1="867.25" x2="479.39" y2="861" class="eb"/>
<path d="M475.99 860.00h6.80l-2.50 2.6h-1.8z" class="cap"/>
<rect x="488.51" y="807.00" width="12.85" height="86.00" fill="url(#cross)" class="bar"/>
<line x1="494.93" y1="806.25" x2="494.93" y2="793.5" class="eb"/>
<path d="M491.53 792.50h6.80l-2.50 2.6h-1.8z" class="cap"/>
<rect x="504.06" y="883.75" width="12.85" height="9.25" fill="#000" class="bar"/>
<line x1="510.48" y1="883" x2="510.48" y2="883" class="eb"/>
<path d="M507.08 882.00h6.80l-2.50 2.6h-1.8z" class="cap"/>
<path d="M397 797.5V759.7Q397 757.5 399.2 757.5H401 M405.5 757.5H407.3Q409.5 757.5 409.5 759.7V797.5" class="br"/>
<path d="M400 797.5V783.2Q400 781 402.2 781H427 M434.4 781H447.3Q449.5 781 449.5 783.2V798.75" class="br"/>
<path d="M464 796.5V760.2Q464 758 466.2 758H467.5 M473.5 758H474.8Q477 758 477 760.2V796.5" class="br"/>
<path d="M469.5 796.5V784.6Q469.5 782.4 471.7 782.4H491.7 M500.5 782.4H511.09999999999997Q513.3 782.4 513.3 784.6V800" class="br"/>
<text x="404.10" y="759.90" font-size="16.0" font-weight="bold" text-anchor="middle" class="st">*</text>
<circle cx="404.10" cy="750.90" r="1.67" class="st"/>
<text x="426.50" y="783.00" font-size="16.0" font-weight="bold" text-anchor="middle" class="st">*</text>
<circle cx="426.50" cy="774.00" r="1.67" class="st"/>
<text x="434.00" y="783.00" font-size="16.0" font-weight="bold" text-anchor="middle" class="st">*</text>
<circle cx="434.00" cy="774.00" r="1.67" class="st"/>
<text x="469.50" y="760.10" font-size="16.0" font-weight="bold" text-anchor="middle" class="st">*</text>
<circle cx="469.50" cy="751.10" r="1.67" class="st"/>
<text x="494.50" y="783.00" font-size="16.0" font-weight="bold" text-anchor="middle" class="st">*</text>
<circle cx="494.50" cy="774.00" r="1.67" class="st"/>
<text x="500.50" y="783.00" font-size="16.0" font-weight="bold" text-anchor="middle" class="st">*</text>
<circle cx="500.50" cy="774.00" r="1.67" class="st"/>
<text x="364.80" y="913.50" font-size="16" font-weight="bold" text-anchor="middle">0</text>
<text x="429.00" y="913.50" font-size="16" font-weight="bold" text-anchor="middle">7</text>
<text x="497.00" y="913.50" font-size="16" font-weight="bold" text-anchor="middle">14</text>
<text x="426.50" y="727.10" font-size="16" font-weight="bold" text-anchor="middle" textLength="36.5" lengthAdjust="spacingAndGlyphs">IgG3</text>
<text x="294.60" y="814.25" font-size="15.5" font-weight="bold" text-anchor="middle" transform="rotate(-90 294.6 814.25)">OD</text>
<line x1="61.3" y1="1017" x2="61.3" y2="1152" class="ax"/>
<line x1="58.3" y1="1152" x2="251.3" y2="1152" class="ax"/>
<line x1="57.8" y1="1017" x2="61.3" y2="1017" class="tk"/>
<text x="55.00" y="1022.50" font-size="12" font-weight="bold" text-anchor="end" textLength="17.5" lengthAdjust="spacingAndGlyphs">1.2</text>
<line x1="57.8" y1="1062" x2="61.3" y2="1062" class="tk"/>
<text x="55.00" y="1067.50" font-size="12" font-weight="bold" text-anchor="end" textLength="17.5" lengthAdjust="spacingAndGlyphs">0.8</text>
<line x1="57.8" y1="1107.5" x2="61.3" y2="1107.5" class="tk"/>
<text x="55.00" y="1113.00" font-size="12" font-weight="bold" text-anchor="end" textLength="17.5" lengthAdjust="spacingAndGlyphs">0.4</text>
<line x1="57.8" y1="1152" x2="61.3" y2="1152" class="tk"/>
<text x="55.00" y="1157.50" font-size="12" font-weight="bold" text-anchor="end" textLength="17.5" lengthAdjust="spacingAndGlyphs">0.0</text>
<line x1="92.5" y1="1152" x2="92.5" y2="1156" class="tk"/>
<line x1="155.5" y1="1152" x2="155.5" y2="1156" class="tk"/>
<line x1="218" y1="1152" x2="218" y2="1156" class="tk"/>
<rect x="68.79" y="1075.75" width="8.60" height="76.25" fill="#fff" class="bar"/>
<line x1="73.08" y1="1075" x2="73.08" y2="1074.5" class="eb"/>
<path d="M70.28 1073.50h5.60l-1.90 2.6h-1.8z" class="cap"/>
<rect x="82.18" y="1092.75" width="8.60" height="59.25" fill="url(#fine)" class="bar"/>
<line x1="86.48" y1="1092" x2="86.48" y2="1090.5" class="eb"/>
<path d="M83.68 1089.50h5.60l-1.90 2.6h-1.8z" class="cap"/>
<rect x="95.58" y="1104.00" width="8.60" height="48.00" fill="url(#cross)" class="bar"/>
<line x1="99.87" y1="1103.25" x2="99.87" y2="1100.5" class="eb"/>
<path d="M97.07 1099.50h5.60l-1.90 2.6h-1.8z" class="cap"/>
<rect x="108.97" y="1115.75" width="8.60" height="36.25" fill="#000" class="bar"/>
<line x1="113.27" y1="1115" x2="113.27" y2="1112.25" class="eb"/>
<path d="M110.47 1111.25h5.60l-1.90 2.6h-1.8z" class="cap"/>
<rect x="131.56" y="1048.25" width="8.60" height="103.75" fill="#fff" class="bar"/>
<line x1="135.86" y1="1047.5" x2="135.86" y2="1028.5" class="eb"/>
<path d="M133.06 1027.50h5.60l-1.90 2.6h-1.8z" class="cap"/>
<rect x="144.96" y="1127.15" width="8.60" height="24.85" fill="url(#fine)" class="bar"/>
<line x1="149.25" y1="1126.4" x2="149.25" y2="1126" class="eb"/>
<path d="M146.45 1125.00h5.60l-1.90 2.6h-1.8z" class="cap"/>
<rect x="158.35" y="1079.25" width="8.60" height="72.75" fill="url(#cross)" class="bar"/>
<line x1="162.65" y1="1078.5" x2="162.65" y2="1071" class="eb"/>
<path d="M159.85 1070.00h5.60l-1.90 2.6h-1.8z" class="cap"/>
<rect x="171.75" y="1130.95" width="8.60" height="21.05" fill="#000" class="bar"/>
<line x1="176.05" y1="1130.2" x2="176.05" y2="1130" class="eb"/>
<path d="M173.25 1129.00h5.60l-1.90 2.6h-1.8z" class="cap"/>
<rect x="194.34" y="1059.50" width="8.60" height="92.50" fill="#fff" class="bar"/>
<line x1="198.63" y1="1058.75" x2="198.63" y2="1052.25" class="eb"/>
<path d="M195.83 1051.25h5.60l-1.90 2.6h-1.8z" class="cap"/>
<rect x="207.73" y="1079.55" width="8.60" height="72.45" fill="url(#fine)" class="bar"/>
<line x1="212.03" y1="1078.8" x2="212.03" y2="1076.2" class="eb"/>
<path d="M209.23 1075.20h5.60l-1.90 2.6h-1.8z" class="cap"/>
<rect x="221.13" y="1048.25" width="8.60" height="103.75" fill="url(#cross)" class="bar"/>
<line x1="225.42" y1="1047.5" x2="225.42" y2="1047" class="eb"/>
<path d="M222.62 1046.00h5.60l-1.90 2.6h-1.8z" class="cap"/>
<rect x="234.52" y="1081.95" width="8.60" height="70.05" fill="#000" class="bar"/>
<line x1="238.82" y1="1081.2" x2="238.82" y2="1076.4" class="eb"/>
<path d="M236.02 1075.40h5.60l-1.90 2.6h-1.8z" class="cap"/>
<text x="92.50" y="998.33" font-size="11.3" font-weight="bold" text-anchor="middle" class="st">*</text>
<circle cx="92.50" cy="992.00" r="1.18" class="st"/>
<text x="97.50" y="998.33" font-size="11.3" font-weight="bold" text-anchor="middle" class="st">*</text>
<circle cx="97.50" cy="992.00" r="1.18" class="st"/>
<text x="156.30" y="998.33" font-size="11.3" font-weight="bold" text-anchor="middle" class="st">*</text>
<circle cx="156.30" cy="992.00" r="1.18" class="st"/>
<text x="161.30" y="998.33" font-size="11.3" font-weight="bold" text-anchor="middle" class="st">*</text>
<circle cx="161.30" cy="992.00" r="1.18" class="st"/>
<text x="219.75" y="999.03" font-size="11.3" font-weight="bold" text-anchor="middle" class="st">*</text>
<circle cx="219.75" cy="992.70" r="1.18" class="st"/>
<text x="0.00" y="0.00" font-size="1" font-weight="bold" text-anchor="middle"></text>
<text x="29.60" y="1080.00" font-size="15.5" font-weight="bold" text-anchor="middle" transform="rotate(-90 29.6 1080)">OD</text>
<path d="M72.5 1022.5V1006Q72.5 1004 74.5 1004H112Q114 1004 114 1006V1023.75M87 1004V1024.5M100 1004V1024.5" class="br"/>
<path d="M136.25 1021.25V1006Q136.25 1004 138.25 1004H175.2Q177.2 1004 177.2 1006V1023.75M150 1004V1024.5" class="br"/>
<path d="M197 1023V1006Q197 1004 199 1004H236.3Q238.3 1004 238.3 1006V1023.8M211.5 1004V1024.6" class="br"/>
<text x="11.00" y="19.80" font-size="26" font-weight="bold" text-anchor="middle">A</text>
<text x="9.30" y="491.30" font-size="25.5" font-weight="bold" text-anchor="middle">B</text>
<text x="10.80" y="985.00" font-size="26" font-weight="bold" text-anchor="middle">C</text>
<text x="285.30" y="946.00" font-size="17.5" font-weight="bold" text-anchor="middle" textLength="166" lengthAdjust="spacingAndGlyphs">Days after injection</text>
<text x="151.50" y="1201.00" font-size="16.5" font-weight="bold" text-anchor="middle" textLength="70" lengthAdjust="spacingAndGlyphs">Subclass</text>
<text x="96.50" y="1171.00" font-size="15.5" font-weight="bold" text-anchor="middle" textLength="28" lengthAdjust="spacingAndGlyphs">IgM</text>
<text x="160.50" y="1171.00" font-size="15.5" font-weight="bold" text-anchor="middle" textLength="36.5" lengthAdjust="spacingAndGlyphs">IgG1</text>
<text x="223.00" y="1171.00" font-size="15.5" font-weight="bold" text-anchor="middle" textLength="36" lengthAdjust="spacingAndGlyphs">IgG3</text>
</g>
</svg>
</body></html>
